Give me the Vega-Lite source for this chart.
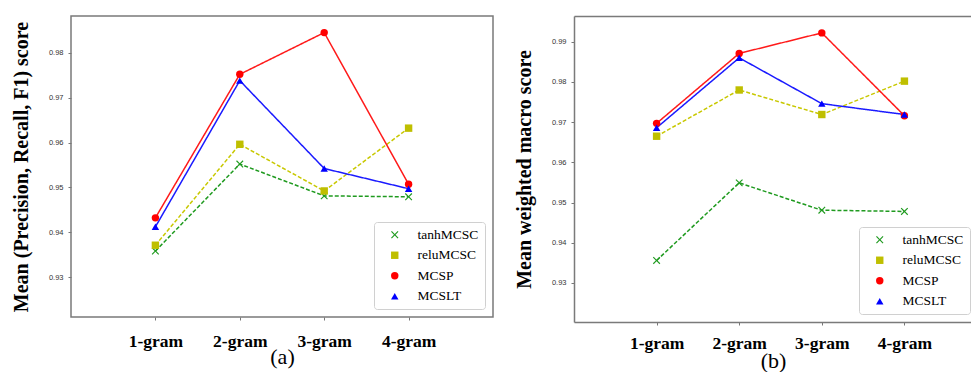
{
  "$schema": "https://vega.github.io/schema/vega-lite/v6.json",
  "background": "white",
  "padding": {"left": 10, "top": 15, "right": 0, "bottom": 0},
  "spacing": 20,
  "datasets": {
    "a": [
      {"gram": "1-gram", "model": "tanhMCSC", "score": 0.9358},
      {"gram": "2-gram", "model": "tanhMCSC", "score": 0.9552},
      {"gram": "3-gram", "model": "tanhMCSC", "score": 0.9481},
      {"gram": "4-gram", "model": "tanhMCSC", "score": 0.9479},
      {"gram": "1-gram", "model": "reluMCSC", "score": 0.9371},
      {"gram": "2-gram", "model": "reluMCSC", "score": 0.9596},
      {"gram": "3-gram", "model": "reluMCSC", "score": 0.9492},
      {"gram": "4-gram", "model": "reluMCSC", "score": 0.9632},
      {"gram": "1-gram", "model": "MCSP", "score": 0.9432},
      {"gram": "2-gram", "model": "MCSP", "score": 0.9752},
      {"gram": "3-gram", "model": "MCSP", "score": 0.9845},
      {"gram": "4-gram", "model": "MCSP", "score": 0.9507},
      {"gram": "1-gram", "model": "MCSLT", "score": 0.9412},
      {"gram": "2-gram", "model": "MCSLT", "score": 0.9738},
      {"gram": "3-gram", "model": "MCSLT", "score": 0.9542},
      {"gram": "4-gram", "model": "MCSLT", "score": 0.9497}
    ],
    "b": [
      {"gram": "1-gram", "model": "tanhMCSC", "score": 0.9356},
      {"gram": "2-gram", "model": "tanhMCSC", "score": 0.9549},
      {"gram": "3-gram", "model": "tanhMCSC", "score": 0.9481},
      {"gram": "4-gram", "model": "tanhMCSC", "score": 0.9478},
      {"gram": "1-gram", "model": "reluMCSC", "score": 0.9665},
      {"gram": "2-gram", "model": "reluMCSC", "score": 0.978},
      {"gram": "3-gram", "model": "reluMCSC", "score": 0.9719},
      {"gram": "4-gram", "model": "reluMCSC", "score": 0.9802},
      {"gram": "1-gram", "model": "MCSP", "score": 0.9697},
      {"gram": "2-gram", "model": "MCSP", "score": 0.9871},
      {"gram": "3-gram", "model": "MCSP", "score": 0.9922},
      {"gram": "4-gram", "model": "MCSP", "score": 0.9716},
      {"gram": "1-gram", "model": "MCSLT", "score": 0.9686},
      {"gram": "2-gram", "model": "MCSLT", "score": 0.986},
      {"gram": "3-gram", "model": "MCSLT", "score": 0.9746},
      {"gram": "4-gram", "model": "MCSLT", "score": 0.9719}
    ]
  },
  "config": {
    "view": {"stroke": "#7a7a7a", "strokeWidth": 1.5},
    "axis": {"grid": false, "domain": false, "tickColor": "#777", "tickSize": 3},
    "axisY": {"labelFont": "Liberation Sans", "labelFontSize": 7.5, "labelColor": "#333", "labelPadding": 5, "titleFont": "Liberation Serif", "titleFontWeight": "bold", "titleFontSize": 20, "titleColor": "black", "titlePadding": 17},
    "axisX": {"labelFont": "Liberation Serif", "labelFontWeight": "bold", "labelFontSize": 17.5, "labelColor": "black", "labelAngle": 0, "titleFont": "Liberation Serif", "titleFontWeight": "normal", "titleFontSize": 22, "titleColor": "black"},
    "legend": {"labelFont": "Liberation Serif", "labelFontSize": 13.5, "labelColor": "black", "symbolSize": 55, "symbolOpacity": 1, "strokeColor": "#d0d0d0", "fillColor": "white", "cornerRadius": 3, "padding": 6, "symbolOffset": 8, "labelOffset": 16, "rowPadding": 5.5}
  },
  "resolve": {
    "scale": {"y": "independent", "color": "independent", "shape": "independent", "stroke": "independent", "strokeDash": "independent"},
    "legend": {"color": "independent", "shape": "independent"}
  },
  "hconcat": [
    {
      "width": 422,
      "height": 301,
      "data": {"name": "a"},
      "layer": [
        {
          "mark": {"type": "line", "strokeWidth": 1.5},
          "encoding": {
            "x": {"field": "gram", "type": "ordinal", "scale": {"type": "point", "padding": 1}, "axis": {"title": "(a)", "labelPadding": 12, "titlePadding": -3}},
            "y": {"field": "score", "type": "quantitative", "scale": {"domain": [0.9211, 0.9882], "nice": false, "zero": false}, "axis": {"title": "Mean (Precision, Recall, F1) score", "values": [0.93, 0.94, 0.95, 0.96, 0.97, 0.98], "format": ".2f"}},
            "stroke": {"field": "model", "type": "nominal", "scale": {"domain": ["MCSP", "MCSLT", "reluMCSC", "tanhMCSC"], "range": ["#ff1a1a", "#1a1aff", "#c8c800", "#1f9a1f"]}, "legend": null},
            "strokeDash": {"field": "model", "type": "nominal", "scale": {"domain": ["MCSP", "MCSLT", "reluMCSC", "tanhMCSC"], "range": [[1, 0], [1, 0], [4, 2], [4, 2]]}, "legend": null}
          }
        },
        {
          "mark": {"type": "point", "filled": true, "size": 55, "opacity": 1},
          "encoding": {
            "x": {"field": "gram", "type": "ordinal"},
            "y": {"field": "score", "type": "quantitative"},
            "color": {"field": "model", "type": "nominal", "scale": {"domain": ["tanhMCSC", "reluMCSC", "MCSP", "MCSLT"], "range": ["#1f9a1f", "#bfbf00", "#ff0000", "#0000ff"]}, "legend": {"orient": "none", "legendX": 303, "legendY": 206, "title": null, "direction": "vertical"}},
            "shape": {"field": "model", "type": "nominal", "scale": {"domain": ["tanhMCSC", "reluMCSC", "MCSP", "MCSLT"], "range": ["M-1,-0.78L-0.78,-1L0,-0.22L0.78,-1L1,-0.78L0.22,0L1,0.78L0.78,1L0,0.22L-0.78,1L-1,0.78L-0.22,0Z", "square", "circle", "triangle-up"]}, "legend": {"orient": "none", "legendX": 303, "legendY": 206, "title": null, "direction": "vertical"}}
          }
        }
      ]
    },
    {
      "width": 398,
      "height": 306,
      "data": {"name": "b"},
      "view": {"stroke": null},
      "resolve": {"axis": {"x": "independent"}},
      "layer": [
        {
          "mark": {"type": "line", "strokeWidth": 1.5},
          "encoding": {
            "x": {"field": "gram", "type": "ordinal", "scale": {"type": "point", "padding": 0.909, "align": 0.55}, "axis": {"title": "(b)", "labelPadding": 9, "titlePadding": -1, "domain": true, "domainColor": "#7a7a7a", "domainWidth": 1.5}},
            "y": {"field": "score", "type": "quantitative", "scale": {"domain": [0.9203, 0.9964], "nice": false, "zero": false}, "axis": {"title": "Mean weighted macro score", "values": [0.93, 0.94, 0.95, 0.96, 0.97, 0.98, 0.99], "format": ".2f", "domain": true, "domainColor": "#7a7a7a", "domainWidth": 1.5}},
            "stroke": {"field": "model", "type": "nominal", "scale": {"domain": ["MCSP", "MCSLT", "reluMCSC", "tanhMCSC"], "range": ["#ff1a1a", "#1a1aff", "#c8c800", "#1f9a1f"]}, "legend": null},
            "strokeDash": {"field": "model", "type": "nominal", "scale": {"domain": ["MCSP", "MCSLT", "reluMCSC", "tanhMCSC"], "range": [[1, 0], [1, 0], [4, 2], [4, 2]]}, "legend": null}
          }
        },
        {
          "mark": {"type": "point", "filled": true, "size": 55, "opacity": 1},
          "encoding": {
            "x": {"field": "gram", "type": "ordinal", "axis": {"orient": "top", "labels": false, "ticks": false, "title": null, "domain": true, "domainColor": "#7a7a7a", "domainWidth": 1.5}},
            "y": {"field": "score", "type": "quantitative"},
            "color": {"field": "model", "type": "nominal", "scale": {"domain": ["tanhMCSC", "reluMCSC", "MCSP", "MCSLT"], "range": ["#1f9a1f", "#bfbf00", "#ff0000", "#0000ff"]}, "legend": {"orient": "none", "legendX": 285, "legendY": 211, "title": null, "direction": "vertical"}},
            "shape": {"field": "model", "type": "nominal", "scale": {"domain": ["tanhMCSC", "reluMCSC", "MCSP", "MCSLT"], "range": ["M-1,-0.78L-0.78,-1L0,-0.22L0.78,-1L1,-0.78L0.22,0L1,0.78L0.78,1L0,0.22L-0.78,1L-1,0.78L-0.22,0Z", "square", "circle", "triangle-up"]}, "legend": {"orient": "none", "legendX": 285, "legendY": 211, "title": null, "direction": "vertical"}}
          }
        }
      ]
    }
  ]
}
